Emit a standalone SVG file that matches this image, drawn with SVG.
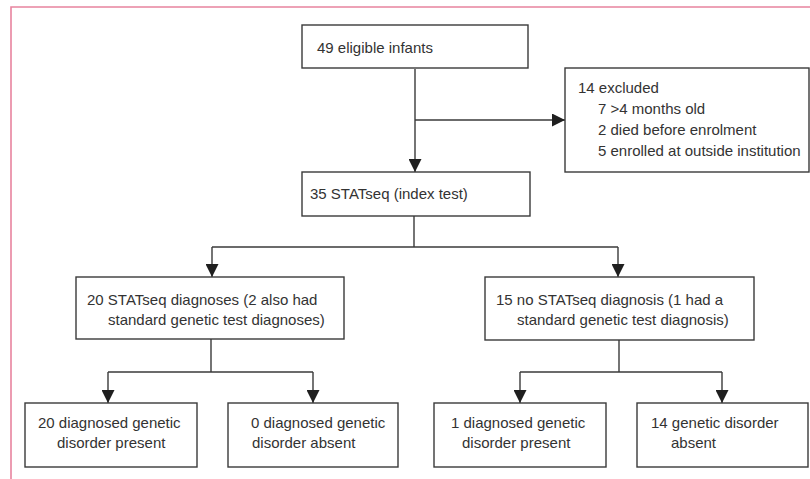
<svg xmlns="http://www.w3.org/2000/svg" width="810" height="479" viewBox="0 0 810 479">
<defs>
<style>
.box{fill:#fff;stroke:#3a3a3a;stroke-width:1.4}
.ln{fill:none;stroke:#3a3a3a;stroke-width:1.4}
text{font-family:"Liberation Sans",Arial,sans-serif;font-size:15px;fill:#333}
.frame{fill:none;stroke:#e8849f;stroke-width:1.6}
</style>
<marker id="ah" markerUnits="userSpaceOnUse" markerWidth="13" markerHeight="13" viewBox="0 0 12 12" refX="12" refY="6" orient="auto">
<path d="M0,0 L12,6 L0,12 Z" fill="#1f1f1f"/>
</marker>
</defs>
<path class="frame" d="M11,479 L11,7 L810,7"/>
<g id="connectors">
<path class="ln" d="M415,69 L415,172" marker-end="url(#ah)"/>
<path class="ln" d="M415,120 L565,120" marker-end="url(#ah)"/>
<path class="ln" d="M414,216 L414,247"/>
<path class="ln" d="M212,247 L618,247"/>
<path class="ln" d="M212,247 L212,277" marker-end="url(#ah)"/>
<path class="ln" d="M618,247 L618,277" marker-end="url(#ah)"/>
<path class="ln" d="M211,339 L211,372"/>
<path class="ln" d="M108,372 L313,372"/>
<path class="ln" d="M108,372 L108,403" marker-end="url(#ah)"/>
<path class="ln" d="M313,372 L313,403" marker-end="url(#ah)"/>
<path class="ln" d="M619,340 L619,372"/>
<path class="ln" d="M520,372 L722,372"/>
<path class="ln" d="M520,372 L520,403" marker-end="url(#ah)"/>
<path class="ln" d="M722,372 L722,403" marker-end="url(#ah)"/>
</g>
<g id="eligible">
<rect class="box" x="302" y="25" width="226" height="43"/>
<text x="317" y="53">49 eligible infants</text>
</g>
<g id="excluded">
<rect class="box" x="565" y="68" width="244" height="104"/>
<text x="578" y="93">14 excluded</text>
<text x="598" y="114">7 &gt;4 months old</text>
<text x="598" y="135">2 died before enrolment</text>
<text x="598" y="156">5 enrolled at outside institution</text>
</g>
<g id="statseq">
<rect class="box" x="302" y="172" width="228" height="44"/>
<text x="310" y="199">35 STATseq (index test)</text>
</g>
<g id="diagnoses">
<rect class="box" x="76" y="277" width="268" height="62"/>
<text x="87" y="305">20 STATseq diagnoses (2 also had</text>
<text x="108" y="325">standard genetic test diagnoses)</text>
</g>
<g id="nodiagnosis">
<rect class="box" x="485" y="277" width="269" height="63"/>
<text x="496" y="305">15 no STATseq diagnosis (1 had a</text>
<text x="517" y="325">standard genetic test diagnosis)</text>
</g>
<g id="present20">
<rect class="box" x="25" y="403" width="172" height="64"/>
<text x="38" y="428">20 diagnosed genetic</text>
<text x="57" y="448">disorder present</text>
</g>
<g id="absent0">
<rect class="box" x="228" y="403" width="170" height="64"/>
<text x="251" y="428">0 diagnosed genetic</text>
<text x="252" y="448">disorder absent</text>
</g>
<g id="present1">
<rect class="box" x="434" y="403" width="172" height="64"/>
<text x="451" y="428">1 diagnosed genetic</text>
<text x="462" y="448">disorder present</text>
</g>
<g id="absent14">
<rect class="box" x="637" y="403" width="171" height="64"/>
<text x="651" y="428">14 genetic disorder</text>
<text x="671" y="448">absent</text>
</g>
</svg>
